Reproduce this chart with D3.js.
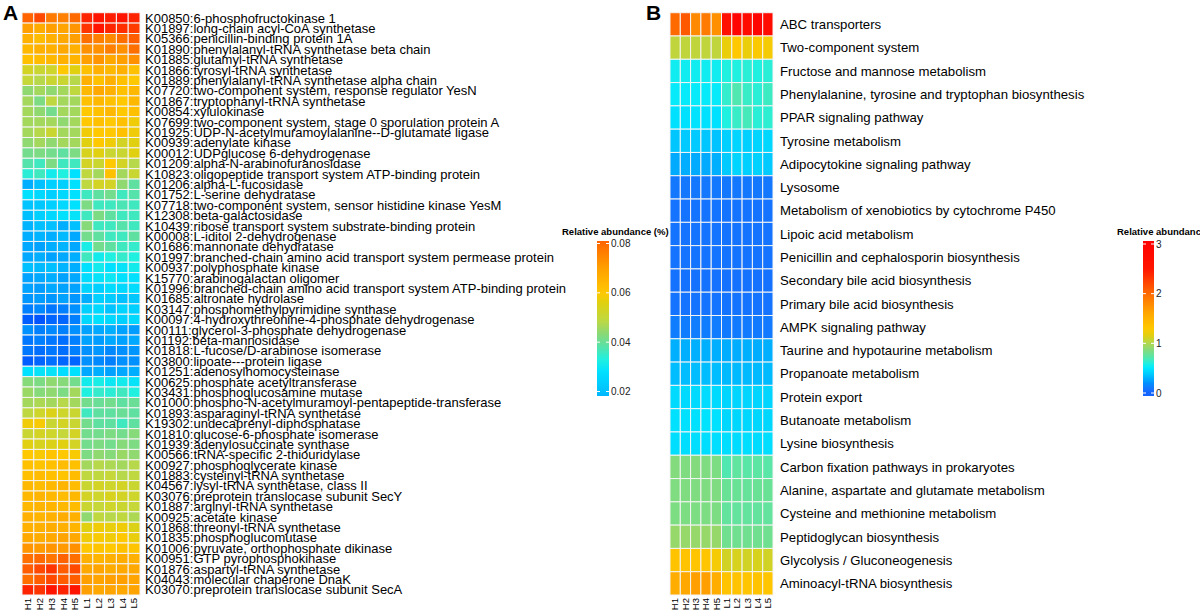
<!DOCTYPE html>
<meta charset="utf-8">
<style>
body{margin:0;background:#fff}
text{font-family:'Liberation Sans',Arial,sans-serif;fill:#000}
</style>
<svg id="svg" width="1200" height="612"></svg>
<script src="https://cdn.jsdelivr.net/npm/d3@7"></script>
<script>

var samples = ['H1','H2','H3','H4','H5','L1','L2','L3','L4','L5']

// panel A : KO level, relative abundance (%)
var koLabels = [
  'K00850:6-phosphofructokinase 1',
  'K01897:long-chain acyl-CoA synthetase',
  'K05366:penicillin-binding protein 1A',
  'K01890:phenylalanyl-tRNA synthetase beta chain',
  'K01885:glutamyl-tRNA synthetase',
  'K01866:tyrosyl-tRNA synthetase',
  'K01889:phenylalanyl-tRNA synthetase alpha chain',
  'K07720:two-component system, response regulator YesN',
  'K01867:tryptophanyl-tRNA synthetase',
  'K00854:xylulokinase',
  'K07699:two-component system, stage 0 sporulation protein A',
  'K01925:UDP-N-acetylmuramoylalanine--D-glutamate ligase',
  'K00939:adenylate kinase',
  'K00012:UDPglucose 6-dehydrogenase',
  'K01209:alpha-N-arabinofuranosidase',
  'K10823:oligopeptide transport system ATP-binding protein',
  'K01206:alpha-L-fucosidase',
  'K01752:L-serine dehydratase',
  'K07718:two-component system, sensor histidine kinase YesM',
  'K12308:beta-galactosidase',
  'K10439:ribose transport system substrate-binding protein',
  'K00008:L-iditol 2-dehydrogenase',
  'K01686:mannonate dehydratase',
  'K01997:branched-chain amino acid transport system permease protein',
  'K00937:polyphosphate kinase',
  'K15770:arabinogalactan oligomer',
  'K01996:branched-chain amino acid transport system ATP-binding protein',
  'K01685:altronate hydrolase',
  'K03147:phosphomethylpyrimidine synthase',
  'K00097:4-hydroxythreonine-4-phosphate dehydrogenase',
  'K00111:glycerol-3-phosphate dehydrogenase',
  'K01192:beta-mannosidase',
  'K01818:L-fucose/D-arabinose isomerase',
  'K03800:lipoate---protein ligase',
  'K01251:adenosylhomocysteinase',
  'K00625:phosphate acetyltransferase',
  'K03431:phosphoglucosamine mutase',
  'K01000:phospho-N-acetylmuramoyl-pentapeptide-transferase',
  'K01893:asparaginyl-tRNA synthetase',
  'K19302:undecaprenyl-diphosphatase',
  'K01810:glucose-6-phosphate isomerase',
  'K01939:adenylosuccinate synthase',
  'K00566:tRNA-specific 2-thiouridylase',
  'K00927:phosphoglycerate kinase',
  'K01883:cysteinyl-tRNA synthetase',
  'K04567:lysyl-tRNA synthetase, class II',
  'K03076:preprotein translocase subunit SecY',
  'K01887:arginyl-tRNA synthetase',
  'K00925:acetate kinase',
  'K01868:threonyl-tRNA synthetase',
  'K01835:phosphoglucomutase',
  'K01006:pyruvate, orthophosphate dikinase',
  'K00951:GTP pyrophosphokinase',
  'K01876:aspartyl-tRNA synthetase',
  'K04043:molecular chaperone DnaK',
  'K03070:preprotein translocase subunit SecA'
]

// one row per KO, columns H1..H5, L1..L5
var koValues = [
  [0.081,0.085,0.077,0.076,0.080, 0.091,0.095,0.093,0.095,0.091],
  [0.070,0.067,0.070,0.069,0.072, 0.088,0.095,0.091,0.089,0.087],
  [0.066,0.063,0.066,0.068,0.070, 0.079,0.076,0.074,0.079,0.082],
  [0.064,0.066,0.066,0.068,0.066, 0.073,0.073,0.076,0.073,0.079],
  [0.062,0.063,0.064,0.066,0.065, 0.070,0.072,0.068,0.070,0.073],
  [0.053,0.051,0.052,0.060,0.056, 0.062,0.066,0.064,0.066,0.062],
  [0.050,0.048,0.051,0.051,0.048, 0.066,0.062,0.066,0.062,0.060],
  [0.044,0.046,0.044,0.046,0.049, 0.064,0.068,0.066,0.062,0.064],
  [0.046,0.042,0.049,0.046,0.046, 0.062,0.064,0.062,0.060,0.064],
  [0.046,0.044,0.041,0.046,0.046, 0.060,0.062,0.064,0.060,0.062],
  [0.046,0.046,0.046,0.044,0.046, 0.060,0.062,0.060,0.062,0.058],
  [0.046,0.048,0.051,0.046,0.046, 0.058,0.060,0.060,0.062,0.058],
  [0.044,0.046,0.044,0.046,0.046, 0.056,0.060,0.058,0.053,0.056],
  [0.041,0.042,0.041,0.039,0.042, 0.054,0.056,0.051,0.051,0.056],
  [0.038,0.036,0.042,0.036,0.036, 0.053,0.051,0.060,0.053,0.048],
  [0.034,0.036,0.031,0.033,0.028, 0.049,0.046,0.062,0.046,0.051],
  [0.017,0.020,0.024,0.024,0.028, 0.049,0.053,0.053,0.044,0.039],
  [0.028,0.026,0.024,0.026,0.028, 0.036,0.039,0.041,0.036,0.038],
  [0.021,0.022,0.024,0.026,0.028, 0.042,0.036,0.036,0.037,0.036],
  [0.020,0.024,0.026,0.028,0.029, 0.036,0.042,0.039,0.036,0.036],
  [0.018,0.020,0.020,0.017,0.020, 0.043,0.036,0.036,0.038,0.036],
  [0.017,0.018,0.017,0.019,0.016, 0.041,0.039,0.036,0.036,0.039],
  [0.016,0.015,0.017,0.018,0.016, 0.032,0.041,0.039,0.036,0.035],
  [0.016,0.017,0.015,0.016,0.017, 0.036,0.031,0.033,0.035,0.033],
  [0.020,0.019,0.020,0.018,0.017, 0.028,0.031,0.028,0.029,0.031],
  [0.015,0.016,0.017,0.015,0.016, 0.027,0.029,0.030,0.028,0.028],
  [0.015,0.014,0.016,0.015,0.015, 0.025,0.024,0.027,0.026,0.027],
  [0.013,0.014,0.013,0.015,0.013, 0.017,0.024,0.023,0.020,0.022],
  [0.010,0.011,0.009,0.010,0.012, 0.024,0.026,0.021,0.025,0.024],
  [0.006,0.005,0.007,0.007,0.010, 0.026,0.028,0.026,0.024,0.026],
  [0.012,0.010,0.011,0.010,0.012, 0.015,0.016,0.017,0.015,0.014],
  [0.009,0.010,0.009,0.008,0.010, 0.015,0.014,0.016,0.015,0.016],
  [0.009,0.008,0.009,0.008,0.010, 0.012,0.013,0.011,0.012,0.013],
  [0.006,0.007,0.008,0.007,0.007, 0.012,0.011,0.010,0.012,0.012],
  [0.028,0.029,0.029,0.027,0.028, 0.016,0.017,0.015,0.016,0.017],
  [0.043,0.042,0.044,0.043,0.041, 0.031,0.032,0.030,0.031,0.029],
  [0.045,0.043,0.044,0.042,0.046, 0.033,0.035,0.034,0.036,0.033],
  [0.046,0.047,0.046,0.048,0.046, 0.041,0.040,0.041,0.039,0.040],
  [0.049,0.052,0.055,0.052,0.051, 0.036,0.039,0.039,0.040,0.039],
  [0.058,0.059,0.051,0.053,0.051, 0.041,0.039,0.039,0.036,0.039],
  [0.051,0.053,0.052,0.050,0.053, 0.041,0.041,0.042,0.041,0.043],
  [0.056,0.054,0.055,0.056,0.053, 0.041,0.042,0.041,0.043,0.042],
  [0.060,0.059,0.061,0.060,0.059, 0.042,0.044,0.043,0.045,0.044],
  [0.062,0.061,0.062,0.063,0.062, 0.046,0.048,0.047,0.046,0.048],
  [0.062,0.063,0.062,0.061,0.063, 0.049,0.049,0.050,0.048,0.049],
  [0.064,0.063,0.064,0.065,0.063, 0.051,0.053,0.052,0.053,0.051],
  [0.064,0.065,0.064,0.063,0.064, 0.053,0.052,0.054,0.053,0.052],
  [0.064,0.065,0.065,0.064,0.063, 0.051,0.050,0.052,0.051,0.050],
  [0.066,0.065,0.066,0.067,0.066, 0.044,0.049,0.048,0.049,0.047],
  [0.066,0.066,0.067,0.066,0.065, 0.056,0.058,0.057,0.058,0.055],
  [0.068,0.067,0.068,0.069,0.068, 0.058,0.059,0.058,0.060,0.057],
  [0.072,0.071,0.072,0.071,0.073, 0.060,0.061,0.060,0.062,0.061],
  [0.079,0.080,0.078,0.081,0.079, 0.066,0.065,0.066,0.067,0.066],
  [0.082,0.085,0.088,0.082,0.085, 0.068,0.069,0.067,0.068,0.068],
  [0.079,0.082,0.085,0.082,0.082, 0.070,0.069,0.070,0.070,0.069],
  [0.091,0.088,0.095,0.091,0.095, 0.070,0.068,0.069,0.068,0.069]
]
var koTicks = [0.02, 0.04, 0.06, 0.08]

// panel B : pathway level
var pathLabels = [
  'ABC transporters',
  'Two-component system',
  'Fructose and mannose metabolism',
  'Phenylalanine, tyrosine and tryptophan biosynthesis',
  'PPAR signaling pathway',
  'Tyrosine metabolism',
  'Adipocytokine signaling pathway',
  'Lysosome',
  'Metabolism of xenobiotics by cytochrome P450',
  'Lipoic acid metabolism',
  'Penicillin and cephalosporin biosynthesis',
  'Secondary bile acid biosynthesis',
  'Primary bile acid biosynthesis',
  'AMPK signaling pathway',
  'Taurine and hypotaurine metabolism',
  'Propanoate metabolism',
  'Protein export',
  'Butanoate metabolism',
  'Lysine biosynthesis',
  'Carbon fixation pathways in prokaryotes',
  'Alanine, aspartate and glutamate metabolism',
  'Cysteine and methionine metabolism',
  'Peptidoglycan biosynthesis',
  'Glycolysis / Gluconeogenesis',
  'Aminoacyl-tRNA biosynthesis'
]
var pathValues = [
  [2.00,2.10,1.80,1.90,1.75, 2.60,3.00,2.80,3.00,2.80],
  [1.05,1.05,1.05,1.05,1.05, 1.20,1.30,1.20,1.28,1.25],
  [0.55,0.55,0.55,0.55,0.55, 0.60,0.60,0.62,0.60,0.62],
  [0.52,0.52,0.52,0.52,0.52, 0.64,0.70,0.65,0.62,0.66],
  [0.47,0.47,0.48,0.47,0.47, 0.60,0.65,0.68,0.62,0.63],
  [0.37,0.38,0.38,0.37,0.36, 0.40,0.42,0.40,0.42,0.43],
  [0.28,0.29,0.28,0.28,0.30, 0.38,0.42,0.40,0.41,0.38],
  [0.10,0.10,0.10,0.10,0.10, 0.10,0.10,0.10,0.10,0.10],
  [0.08,0.08,0.08,0.08,0.08, 0.08,0.08,0.08,0.08,0.08],
  [0.08,0.08,0.08,0.08,0.08, 0.08,0.08,0.08,0.08,0.08],
  [0.08,0.08,0.08,0.08,0.08, 0.08,0.08,0.08,0.08,0.08],
  [0.07,0.07,0.07,0.07,0.07, 0.07,0.07,0.07,0.07,0.07],
  [0.08,0.08,0.08,0.08,0.08, 0.08,0.08,0.08,0.08,0.08],
  [0.12,0.12,0.12,0.12,0.12, 0.11,0.11,0.11,0.11,0.11],
  [0.30,0.30,0.30,0.30,0.30, 0.29,0.29,0.30,0.29,0.30],
  [0.34,0.34,0.34,0.34,0.34, 0.33,0.33,0.33,0.33,0.33],
  [0.44,0.44,0.44,0.45,0.44, 0.42,0.42,0.42,0.42,0.42],
  [0.47,0.47,0.47,0.48,0.47, 0.43,0.43,0.43,0.43,0.43],
  [0.46,0.46,0.46,0.46,0.46, 0.46,0.45,0.46,0.45,0.46],
  [0.86,0.85,0.86,0.85,0.84, 0.70,0.75,0.73,0.74,0.73],
  [0.85,0.85,0.85,0.85,0.85, 0.78,0.78,0.77,0.78,0.78],
  [0.84,0.84,0.84,0.84,0.84, 0.76,0.76,0.76,0.76,0.76],
  [0.92,0.92,0.92,0.92,0.92, 0.80,0.80,0.80,0.80,0.80],
  [1.35,1.35,1.33,1.32,1.25, 1.10,1.12,1.10,1.12,1.10],
  [1.55,1.60,1.65,1.65,1.55, 1.35,1.35,1.33,1.35,1.32]
]
var pathTicks = [0, 1, 2, 3]

// colour ramps
var colA = d3.scaleLinear()
  .domain([0.005,0.012,0.02,0.028,0.033,0.039,0.044,0.049,0.056,0.06,0.07,0.08,0.09,0.1])
  .range(['#0055FF','#0090FF','#00C0FF','#00E0FF','#20F0E0','#60E0A0','#90D870','#C0D840','#E0D010','#FFC800','#FFA000','#FF6A00','#FF2800','#FF0000'])
  .clamp(true)
var colB = d3.scaleLinear()
  .domain([0,0.1,0.2,0.3,0.4,0.5,0.6,0.7,0.8,0.9,1.0,1.15,1.3,1.6,2.0,2.5,3.1])
  .range(['#1464FF','#1478FF','#0090FF','#00B0FF','#00D0FF','#00E8FF','#20F0E0','#50E8B0','#70E090','#90D870','#B0D850','#E0D010','#FFC800','#FFA800','#FF6A00','#FF1500','#FF0000'])
  .clamp(true)

var svg = d3.select('#svg')
var defs = svg.append('defs')

function heatmap(opt) {
  var g = svg.append('g')
  var x = d3.scaleBand().domain(samples).range([opt.x0, opt.x1])
  var y = d3.scaleBand().domain(opt.labels).range([opt.y0, opt.y1])

  var cells = []
  opt.values.forEach((row, i) => row.forEach((v, j) => cells.push({r: opt.labels[i], c: samples[j], v: v})))

  g.selectAll('rect.cell').data(cells).enter().append('rect')
    .attr('class', 'cell')
    .attr('x', d => x(d.c))
    .attr('y', d => y(d.r))
    .attr('width', x.bandwidth())
    .attr('height', y.bandwidth())
    .attr('fill', d => opt.col(d.v))
    .attr('stroke', '#f4f4f4')
    .attr('stroke-width', 1)

  g.selectAll('text.row').data(opt.labels).enter().append('text')
    .attr('class', 'row')
    .attr('x', opt.x1 + opt.labelGap)
    .attr('y', d => y(d) + y.bandwidth() / 2)
    .attr('dy', '0.36em')
    .style('font-size', opt.fontSize + 'px')
    .text(d => d)

  g.selectAll('text.col').data(samples).enter().append('text')
    .attr('class', 'col')
    .attr('transform', d => 'translate(' + (x(d) + x.bandwidth() / 2) + ',' + (opt.y1 + 3) + ') rotate(-90)')
    .attr('dy', '0.35em')
    .attr('text-anchor', 'end')
    .style('font-size', '9.5px')
    .text(d => d)

  svg.append('text')
    .attr('x', opt.letterX).attr('y', 20)
    .style('font-size', '21px').style('font-weight', 'bold')
    .text(opt.letter)

  // colour key
  var k = opt.key
  var ky = d3.scaleLinear().domain([k.ticks[0], k.ticks[k.ticks.length - 1]]).range([k.yBot, k.yTop])
  var lo = ky.invert(k.bot), hi = ky.invert(k.top)
  var gid = 'grad' + opt.letter
  var grad = defs.append('linearGradient').attr('id', gid)
    .attr('x1', 0).attr('y1', 1).attr('x2', 0).attr('y2', 0)
  d3.range(0, 1.001, 0.02).forEach(t => {
    grad.append('stop').attr('offset', t).attr('stop-color', opt.col(lo + t * (hi - lo)))
  })
  svg.append('rect')
    .attr('x', k.x).attr('y', k.top)
    .attr('width', k.w).attr('height', k.bot - k.top)
    .attr('fill', 'url(#' + gid + ')')
  k.ticks.forEach(t => {
    [[k.x, k.x + 3], [k.x + k.w - 3, k.x + k.w]].forEach(p => {
      svg.append('line')
        .attr('x1', p[0]).attr('x2', p[1])
        .attr('y1', ky(t)).attr('y2', ky(t))
        .attr('stroke', '#fff').attr('stroke-width', 1)
    })
    svg.append('text')
      .attr('x', k.x + k.w + 2).attr('y', ky(t)).attr('dy', '0.35em')
      .style('font-size', '10px').style('fill', '#222')
      .text(k.fmt(t))
  })
  svg.append('text')
    .attr('x', k.titleX).attr('y', k.top - 6)
    .style('font-size', '9.5px').style('font-weight', 'bold')
    .text('Relative abundance (%)')
}

heatmap({
  letter: 'A', letterX: 3,
  labels: koLabels, values: koValues, col: colA,
  x0: 22, x1: 140, y0: 12.7, y1: 595,
  labelGap: 5, fontSize: 13,
  key: {x: 597, w: 12, top: 241, bot: 396, yTop: 243.5, yBot: 391.5, ticks: koTicks, fmt: d3.format('.2f'), titleX: 562}
})

heatmap({
  letter: 'B', letterX: 646,
  labels: pathLabels, values: pathValues, col: colB,
  x0: 670, x1: 773, y0: 12.7, y1: 595,
  labelGap: 7, fontSize: 13.2,
  key: {x: 1143, w: 11, top: 241, bot: 396, yTop: 244, yBot: 393, ticks: pathTicks, fmt: d3.format('d'), titleX: 1117}
})

</script>
